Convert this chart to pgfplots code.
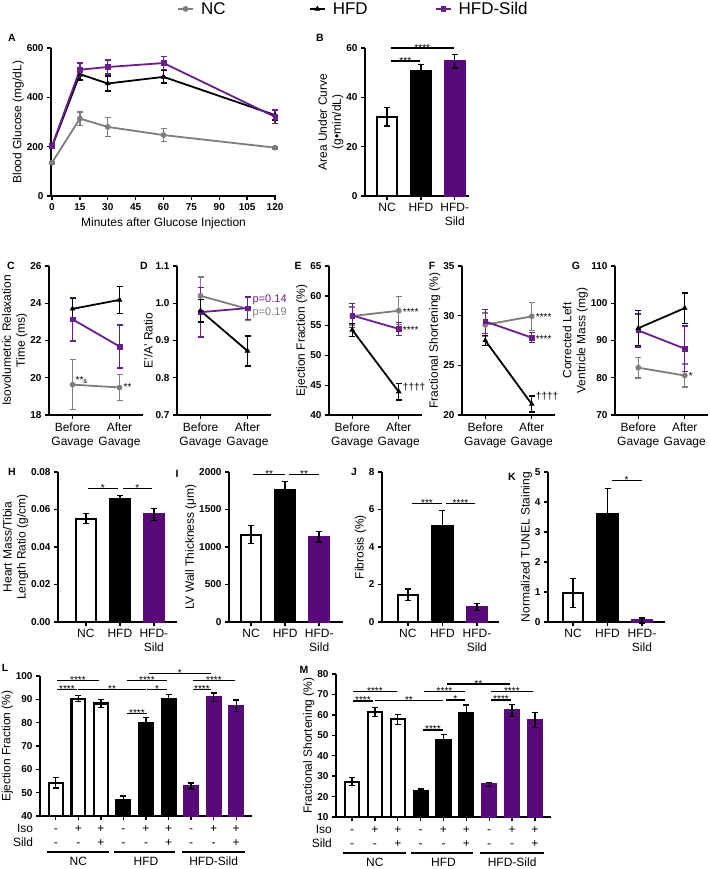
\documentclass[border=0pt]{standalone}
\usepackage{fontspec}
\setmainfont{Liberation Sans}
\usepackage{pgfplots}
\pgfplotsset{compat=1.18}
\definecolor{ncgray}{RGB}{128,124,121}
\definecolor{slp}{RGB}{106,30,140}
\definecolor{barp}{RGB}{88,10,122}
\newcommand{\tickfont}{\bfseries\fontsize{10}{11}\selectfont}
\newcommand{\labfont}{\fontsize{12}{14}\selectfont}
\newcommand{\starfont}{\fontsize{10}{10}\selectfont}
\tikzset{cr/.style={font=\labfont, inner sep=0pt, text height=8.5pt, text depth=2.5pt}}
\pgfplotsset{
  gp/.style={
    scale only axis, axis lines*=left,
    axis line style={line width=1.6pt},
    tick style={line width=1.4pt,black},
    major tick length=4pt, tick align=outside,
    clip=false, scaled ticks=false,
    /pgf/number format/assume math mode=true,
    /pgf/number format/1000 sep={},
    yticklabel style={font=\tickfont},
    xticklabel style={font=\tickfont},
    label style={font=\labfont},
    ylabel style={align=center},
    ylabel shift=-4pt,
    anchor=south west,
  },
  eb/.style={/pgfplots/error bars/y dir=both, /pgfplots/error bars/y explicit,
     /pgfplots/error bars/error bar style={line width=1.4pt, #1},
     /pgfplots/error bars/error mark options={rotate=90, line width=1.4pt, mark size=3pt, #1}},
  ncl/.style={color=ncgray, mark=*, line width=1.8pt, mark size=2.6pt, mark options={solid, fill=ncgray, line width=0.5pt}, eb=ncgray},
  hfl/.style={color=black, mark=triangle*, line width=1.8pt, mark size=2.8pt, mark options={solid, fill=black, line width=0.5pt}, eb=black},
  sll/.style={color=slp, mark=square*, line width=1.8pt, mark size=2.3pt, mark options={solid, fill=slp, line width=0.5pt}, eb=slp},
  wbar/.style={ybar, bar shift=0pt, fill=white, draw=black, line width=2.2pt, eb=black},
  kbar/.style={ybar, bar shift=0pt, fill=black, draw=black, line width=2.2pt, eb=black},
  pbar/.style={ybar, bar shift=0pt, fill=barp, draw=barp, line width=2.2pt, eb=black},
  ba/.style={gp, width=94pt, height=149pt, xmin=-0.5, xmax=1.5, xtick={0,1},
     xticklabels={{Before\\Gavage},{After\\Gavage}},
     xticklabel style={align=center, font=\fontsize{12}{14.5}\selectfont}},
  b3/.style={gp, height=150pt, ymin=0, xtick={0,1,2}, xticklabels={NC,HFD,{HFD-\\Sild}},
     xticklabel style={align=center, font=\labfont}, bar width=0.58},
  b9/.style={gp, xmin=-0.7, xmax=8.7, ytick distance=10, xtick={0,...,8}, xticklabels={,,,,,,,,}, bar width=0.61},
}
\newcommand{\brk}[4]{\draw[line width=1.4pt] (axis cs:#1,#3) -- (axis cs:#2,#3) node[midway, anchor=base, yshift=-3pt, font=\starfont, inner sep=0pt]{#4};}
\newcommand{\ann}[3]{\node[anchor=west, font=\starfont, inner sep=0pt, xshift=4pt, yshift=#3] at (axis cs:1,#1) {#2};}
\newcommand{\condrows}[2]{%
  \node[cr,anchor=east] at ([yshift=-13pt]axis cs:#2,#1) {Iso};
  \node[cr,anchor=east] at ([yshift=-27pt]axis cs:#2,#1) {Sild};
  \node[cr] at ([yshift=-13pt]axis cs:0,#1) {-};
  \node[cr] at ([yshift=-13pt]axis cs:1,#1) {+};
  \node[cr] at ([yshift=-13pt]axis cs:2,#1) {+};
  \node[cr] at ([yshift=-13pt]axis cs:3,#1) {-};
  \node[cr] at ([yshift=-13pt]axis cs:4,#1) {+};
  \node[cr] at ([yshift=-13pt]axis cs:5,#1) {+};
  \node[cr] at ([yshift=-13pt]axis cs:6,#1) {-};
  \node[cr] at ([yshift=-13pt]axis cs:7,#1) {+};
  \node[cr] at ([yshift=-13pt]axis cs:8,#1) {+};
  \node[cr] at ([yshift=-27pt]axis cs:0,#1) {-};
  \node[cr] at ([yshift=-27pt]axis cs:1,#1) {-};
  \node[cr] at ([yshift=-27pt]axis cs:2,#1) {+};
  \node[cr] at ([yshift=-27pt]axis cs:3,#1) {-};
  \node[cr] at ([yshift=-27pt]axis cs:4,#1) {-};
  \node[cr] at ([yshift=-27pt]axis cs:5,#1) {+};
  \node[cr] at ([yshift=-27pt]axis cs:6,#1) {-};
  \node[cr] at ([yshift=-27pt]axis cs:7,#1) {-};
  \node[cr] at ([yshift=-27pt]axis cs:8,#1) {+};
  \draw[line width=2.6pt] ([yshift=-36pt]axis cs:-0.4,#1) -- ([yshift=-36pt]axis cs:2.35,#1);
  \draw[line width=2.6pt] ([yshift=-36pt]axis cs:2.6,#1) -- ([yshift=-36pt]axis cs:5.3,#1);
  \draw[line width=2.6pt] ([yshift=-36pt]axis cs:5.6,#1) -- ([yshift=-36pt]axis cs:8.4,#1);
  \node[cr] at ([yshift=-46pt]axis cs:1,#1) {NC};
  \node[cr] at ([yshift=-46pt]axis cs:4,#1) {HFD};
  \node[cr] at ([yshift=-46pt]axis cs:7,#1) {HFD-Sild};
}
\begin{document}
\begin{tikzpicture}
\useasboundingbox (0pt,0pt) rectangle (709pt,-869pt);
% ---------------- A
\begin{axis}[gp, at={(51pt,-196pt)}, width=225pt, height=148pt,
  xmin=-0.54, xmax=120.5, ymin=0, ymax=600, xtick={0,15,...,120}, ytick={0,200,400,600},
  xlabel={Minutes after Glucose Injection}, ylabel={Blood Glucose (mg/dL)},
  legend columns=3,
  legend style={at={(0.56,1.264)}, anchor=west, draw=none, fill=none, inner sep=0pt,
    font=\fontsize{17}{18}\selectfont, legend cell align=left, nodes={inner sep=2pt},
    /tikz/every odd column/.append style={column sep=5pt}},
  legend image code/.code={\draw[mark repeat=2, mark phase=2] plot coordinates {(0pt,0pt) (7.5pt,0pt) (15pt,0pt)};}]
\addplot[ncl] coordinates {(0,135) +- (0,5) (15,314) +- (0,27) (30,280) +- (0,38) (60,247) +- (0,27) (120,196) +- (0,5)};
\addlegendentry{\makebox[106pt][l]{NC}}
\addplot[hfl] coordinates {(0,200) +- (0,8) (15,494) +- (0,24) (30,456) +- (0,30) (60,483) +- (0,25) (120,328) +- (0,20)};
\addlegendentry{\makebox[100pt][l]{HFD}}
\addplot[sll] coordinates {(0,203) +- (0,8) (15,512) +- (0,28) (30,523) +- (0,28) (60,539) +- (0,27) (120,321) +- (0,27)};
\addlegendentry{HFD-Sild}
\end{axis}
% ---------------- B
\begin{axis}[gp, at={(365pt,-196pt)}, width=104pt, height=148pt, xmin=-0.65, xmax=2.42,
  ymin=0, ymax=60, ytick={0,20,40,60}, xtick={0,1,2}, xticklabels={NC,HFD,{HFD-\\Sild}},
  xticklabel style={align=center, font=\labfont}, ylabel={Area Under Curve\\(g•min/dL)}, bar width=0.57]
\addplot[wbar] coordinates {(0,32.1) +- (0,3.8)};
\addplot[kbar] coordinates {(1,50.5) +- (0,2.7)};
\addplot[pbar] coordinates {(2,54.6) +- (0,2.7)};
\brk{0.11}{0.97}{54.7}{***}
\brk{0.11}{1.97}{60}{****}
\end{axis}
% ---------------- C
\begin{axis}[ba, at={(49pt,-415pt)}, ymin=18, ymax=26, ytick={18,20,22,24,26},
  ylabel={Isovolumetric Relaxation\\Time (ms)}]
\addplot[ncl] coordinates {(0,19.63) +- (0,1.34) (1,19.48) +- (0,0.69)};
\addplot[sll] coordinates {(0,23.14) +- (0,1.16) (1,21.68) +- (0,1.16)};
\addplot[hfl] coordinates {(0,23.7) +- (0,0.55) (1,24.18) +- (0,0.73)};
\node[anchor=south west, font=\starfont, inner sep=0pt, xshift=3pt, yshift=1pt] at (axis cs:0,19.63) {**{\fontsize{6}{6}\selectfont\&}};
\ann{19.48}{**}{0pt}
\end{axis}
% ---------------- D
\begin{axis}[ba, at={(177pt,-415pt)}, ymin=0.7, ymax=1.1, ytick={0.7,0.8,0.9,1.0,1.1},
  yticklabel style={/pgf/number format/.cd, fixed, fixed zerofill, precision=1},
  ylabel={E'/A' Ratio}]
\addplot[ncl] coordinates {(0,1.02) +- (0,0.05) (1,0.985) +- (0,0.03)};
\addplot[sll] coordinates {(0,0.976) +- (0,0.067) (1,0.987) +- (0,0.03)};
\addplot[hfl] coordinates {(0,0.98) +- (0,0.03) (1,0.872) +- (0,0.04)};
\node[anchor=west, font=\fontsize{11}{12}\selectfont, text=slp, inner sep=0pt, xshift=5pt] at (axis cs:1,1.009) {p=0.14};
\node[anchor=west, font=\fontsize{11}{12}\selectfont, text=ncgray, inner sep=0pt, xshift=5pt] at (axis cs:1,0.974) {p=0.19};
\end{axis}
% ---------------- E
\begin{axis}[ba, at={(329pt,-415pt)}, width=93pt, ymin=40, ymax=65, ytick={40,45,...,65},
  ylabel={Ejection Fraction (\%)}]
\addplot[ncl] coordinates {(0,56.6) +- (0,1.5) (1,57.5) +- (0,2.35)};
\addplot[sll] coordinates {(0,56.7) +- (0,2.0) (1,54.45) +- (0,1.1)};
\addplot[hfl] coordinates {(0,54.27) +- (0,1.1) (1,43.9) +- (0,1.4)};
\ann{57.5}{****}{-1pt}
\ann{54.45}{****}{-1pt}
\node[anchor=west, font=\fontsize{10}{10}\selectfont, inner sep=0pt, xshift=4pt] at (axis cs:1,44.6) {††††};
\end{axis}
% ---------------- F
\begin{axis}[ba, at={(462pt,-415pt)}, width=93pt, ymin=20, ymax=35, ytick={20,25,30,35},
  ylabel={Fractional Shortening (\%)}]
\addplot[ncl] coordinates {(0,29.08) +- (0,1.2) (1,29.93) +- (0,1.4)};
\addplot[sll] coordinates {(0,29.42) +- (0,1.2) (1,27.79) +- (0,0.5)};
\addplot[hfl] coordinates {(0,27.5) +- (0,0.5) (1,21.1) +- (0,0.8)};
\ann{29.93}{****}{-1pt}
\ann{27.79}{****}{-1pt}
\node[anchor=west, font=\fontsize{10}{10}\selectfont, inner sep=0pt, xshift=4pt] at (axis cs:1,21.9) {††††};
\end{axis}
% ---------------- G
\begin{axis}[ba, at={(615pt,-415pt)}, width=93pt, ymin=70, ymax=110, ytick={70,80,...,110},
  ylabel={Corrected Left\\Ventricle Mass (mg)}]
\addplot[ncl] coordinates {(0,82.7) +- (0,2.8) (1,80.6) +- (0,3.1)};
\addplot[sll] coordinates {(0,92.7) +- (0,4.4) (1,87.8) +- (0,6.1)};
\addplot[hfl] coordinates {(0,93.3) +- (0,4.7) (1,98.7) +- (0,4.1)};
\ann{80.6}{*}{-1pt}
\end{axis}
% ---------------- H
\begin{axis}[b3, at={(58pt,-622pt)}, width=119pt, xmin=-0.82, xmax=2.68, ymax=0.08,
  ytick={0,0.02,0.04,0.06,0.08}, yticklabel style={/pgf/number format/.cd, fixed, fixed zerofill, precision=2},
  ylabel={Heart Mass/Tibia\\Length Ratio (g/cm)}]
\addplot[wbar] coordinates {(0,0.0551) +- (0,0.0027)};
\addplot[kbar] coordinates {(1,0.0656) +- (0,0.002)};
\addplot[pbar] coordinates {(2,0.0573) +- (0,0.0032)};
\brk{0.06}{0.94}{0.0712}{*}
\brk{1.09}{1.94}{0.0712}{*}
\end{axis}
% ---------------- I
\begin{axis}[b3, at={(229pt,-622pt)}, width=114pt, xmin=-0.65, xmax=2.7, ymax=2000,
  ytick={0,500,1000,1500,2000}, ylabel={LV Wall Thickness (μm)}]
\addplot[wbar] coordinates {(0,1165) +- (0,120)};
\addplot[kbar] coordinates {(1,1765) +- (0,111)};
\addplot[pbar] coordinates {(2,1135) +- (0,69)};
\brk{0.06}{1.0}{1970}{**}
\brk{1.11}{2.0}{1970}{**}
\end{axis}
% ---------------- J
\begin{axis}[b3, at={(382pt,-622pt)}, width=117pt, xmin=-0.75, xmax=2.64, ymax=8,
  ytick={0,2,4,6,8}, ylabel={Fibrosis (\%)}]
\addplot[wbar] coordinates {(0,1.46) +- (0,0.3)};
\addplot[kbar] coordinates {(1,5.11) +- (0,0.84)};
\addplot[pbar] coordinates {(2,0.8) +- (0,0.2)};
\brk{0.12}{0.99}{6.32}{***}
\brk{1.1}{1.95}{6.32}{****}
\end{axis}
% ---------------- K
\begin{axis}[b3, at={(548pt,-622pt)}, width=117pt, xmin=-0.73, xmax=2.67, ymax=5,
  ytick={0,1,2,3,4,5}, ylabel={Normalized TUNEL Staining}]
\addplot[wbar] coordinates {(0,0.97) +- (0,0.48)};
\addplot[kbar] coordinates {(1,3.6) +- (0,0.85)};
\addplot[pbar] coordinates {(2,0.05) +- (0,0.08)};
\brk{1.12}{1.99}{4.72}{*}
\end{axis}
% ---------------- L
\begin{axis}[b9, at={(40pt,-816pt)}, width=212pt, height=140pt, ymin=40, ymax=100,
  ylabel={Ejection Fraction (\%)}]
\addplot[wbar] coordinates {(0,54.3) +- (0,2.3) (1,90.3) +- (0,1.3) (2,88.2) +- (0,1.8)};
\addplot[kbar] coordinates {(3,46.9) +- (0,1.6) (4,79.7) +- (0,2.6) (5,89.9) +- (0,2.1)};
\addplot[pbar] coordinates {(6,52.9) +- (0,1.3) (7,90.9) +- (0,1.8) (8,87.3) +- (0,2.4)};
\brk{0.05}{0.94}{94.3}{****}
\brk{0.05}{1.92}{98}{****}
\brk{1.0}{3.99}{94.3}{**}
\brk{3.15}{4.93}{98}{****}
\brk{4.05}{4.93}{94.3}{*}
\brk{4.13}{6.88}{101.1}{*}
\brk{3.15}{4.05}{84}{****}
\brk{6.08}{6.88}{94.3}{****}
\brk{6.08}{7.95}{98}{****}
\condrows{40}{-1.0}
\end{axis}
% ---------------- M
\begin{axis}[b9, at={(336pt,-817pt)}, width=215pt, height=143pt, ymin=10, ymax=80,
  ylabel={Fractional Shortening (\%)}]
\addplot[wbar] coordinates {(0,27.3) +- (0,2) (1,61.4) +- (0,2.3) (2,57.8) +- (0,2.5)};
\addplot[kbar] coordinates {(3,22.7) +- (0,1) (4,47.7) +- (0,2.8) (5,60.75) +- (0,4)};
\addplot[pbar] coordinates {(6,26) +- (0,1) (7,62.1) +- (0,3) (8,57.5) +- (0,3.8)};
\brk{0.04}{0.92}{66.8}{****}
\brk{0.04}{1.97}{71.3}{****}
\brk{1.0}{3.98}{67}{**}
\brk{3.15}{4.94}{71.4}{****}
\brk{4.1}{4.94}{67.3}{*}
\brk{4.15}{6.9}{75.1}{**}
\brk{3.1}{3.98}{52.6}{****}
\brk{6.08}{6.95}{67.3}{****}
\brk{6.08}{7.9}{71.4}{****}
\condrows{10}{-0.87}
\end{axis}
% ---------------- panel letters
\begin{scope}[every node/.style={font=\bfseries\fontsize{10.5}{11}\selectfont, inner sep=0pt}]
\node at (12pt,-38pt) {A};
\node at (320pt,-38pt) {B};
\node at (11pt,-266pt) {C};
\node at (144pt,-266pt) {D};
\node at (298pt,-266pt) {E};
\node at (432pt,-266pt) {F};
\node at (576pt,-266pt) {G};
\node at (12pt,-472pt) {H};
\node at (177pt,-474pt) {I};
\node at (354pt,-472pt) {J};
\node at (512pt,-477pt) {K};
\node at (5pt,-668pt) {L};
\node at (304pt,-670pt) {M};
\end{scope}
\end{tikzpicture}
\end{document}
